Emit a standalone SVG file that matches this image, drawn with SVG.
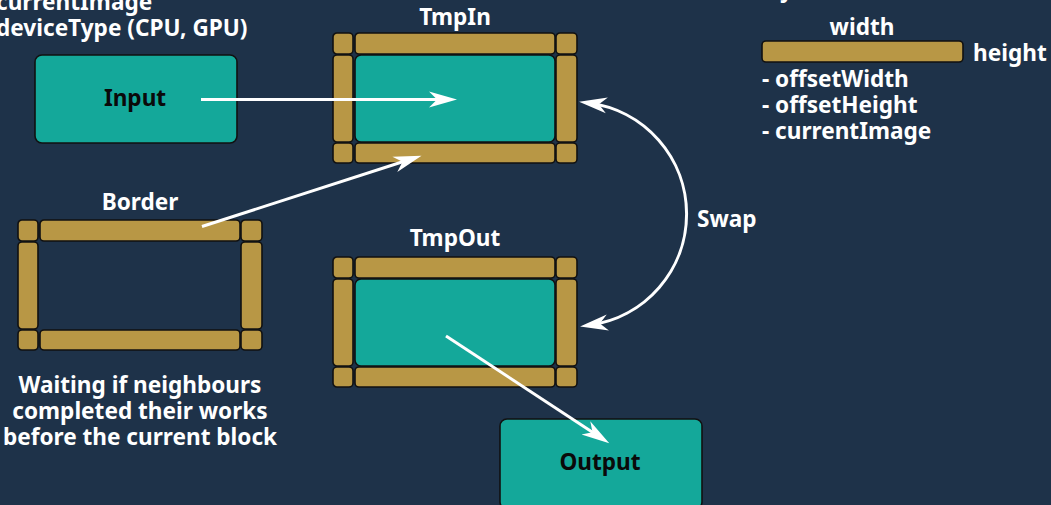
<svg xmlns="http://www.w3.org/2000/svg" xmlns:xlink="http://www.w3.org/1999/xlink" width="1051" height="505" viewBox="0 0 1051 505">
  <style>
    text { font-family: "Noto Sans", "Open Sans", sans-serif; font-weight: 700; font-size: 22.6px; }
    .lbl { fill: #ffffff; }
    .mid { text-anchor: middle; }
    .dark { fill: #0a0a0a; }
    .box { fill: #14a89a; stroke: #111111; stroke-width: 1.6; }
    .cell { fill: #b89745; stroke: #111111; stroke-width: 1.6; }
    .core { fill: #14a89a; stroke: #111111; stroke-width: 1.6; }
    .wire { fill: none; stroke: #ffffff; stroke-width: 3; }
  </style>
  <defs>
    <marker id="head" markerUnits="userSpaceOnUse" markerWidth="30" markerHeight="20" refX="18" refY="10" orient="auto-start-reverse" viewBox="0 0 30 20">
      <path d="M0,2 L28,10 L0,18 L8,10 Z" fill="#ffffff"/>
    </marker>
    <!-- eight border cells surrounding a 200x87 core -->
    <g id="frame">
      <rect class="cell" x="0" y="0" width="20" height="21" rx="4"/>
      <rect class="cell" x="22" y="0" width="200" height="21" rx="4"/>
      <rect class="cell" x="223" y="0" width="21" height="21" rx="4"/>
      <rect class="cell" x="0" y="22" width="20" height="87" rx="4"/>
      <rect class="cell" x="223" y="22" width="21" height="87" rx="4"/>
      <rect class="cell" x="0" y="110" width="20" height="20" rx="4"/>
      <rect class="cell" x="22" y="110" width="200" height="20" rx="4"/>
      <rect class="cell" x="223" y="110" width="21" height="20" rx="4"/>
    </g>
  </defs>

  <rect x="0" y="0" width="1051" height="505" fill="#1e3249"/>

  <!-- top-left notes -->
  <g id="notes-top">
    <text class="lbl" x="-4" y="10">currentImage</text>
    <text class="lbl" x="-4" y="36">deviceType (CPU, GPU)</text>
  </g>

  <!-- legend -->
  <g id="legend">
    <text class="lbl" x="780" y="-3">y</text>
    <text class="lbl mid" x="862" y="35">width</text>
    <rect class="cell" x="762" y="41" width="201" height="21" rx="4"/>
    <text class="lbl" x="973" y="61">height</text>
    <text class="lbl" x="762" y="87">- offsetWidth</text>
    <text class="lbl" x="762" y="113">- offsetHeight</text>
    <text class="lbl" x="762" y="139">- currentImage</text>
  </g>

  <g id="input">
    <rect class="box" x="35" y="55" width="202" height="88" rx="7"/>
    <text class="dark mid" x="135" y="106">Input</text>
  </g>

  <g id="tmpin">
    <text class="lbl mid" x="455" y="25">TmpIn</text>
    <use xlink:href="#frame" href="#frame" x="333" y="33"/>
    <rect class="core" x="355" y="55" width="200" height="87" rx="6"/>
  </g>

  <g id="border">
    <text class="lbl mid" x="140" y="210">Border</text>
    <use xlink:href="#frame" href="#frame" x="18" y="220"/>
  </g>

  <g id="tmpout">
    <text class="lbl mid" x="455" y="246">TmpOut</text>
    <use xlink:href="#frame" href="#frame" x="333" y="257"/>
    <rect class="core" x="355" y="279" width="200" height="87" rx="6"/>
  </g>

  <g id="output">
    <rect class="box" x="500" y="419" width="202" height="90" rx="7"/>
    <text class="dark mid" x="600" y="470">Output</text>
  </g>

  <g id="swap-label">
    <text class="lbl" x="697" y="227">Swap</text>
  </g>

  <g id="notes-bottom">
    <text class="lbl mid" x="140" y="393">Waiting if neighbours</text>
    <text class="lbl mid" x="140" y="419">completed their works</text>
    <text class="lbl mid" x="140" y="445">before the current block</text>
  </g>

  <g id="connectors">
    <path class="wire" d="M201,99.5 L447,99.5" marker-end="url(#head)"/>
    <path class="wire" d="M202,226.5 L412,158.8" marker-end="url(#head)"/>
    <path class="wire" d="M446,336 L600.9,437.8" marker-end="url(#head)"/>
    <path class="wire" d="M589,103 A112,112 0 0 1 590,325" marker-start="url(#head)" marker-end="url(#head)"/>
  </g>
</svg>
